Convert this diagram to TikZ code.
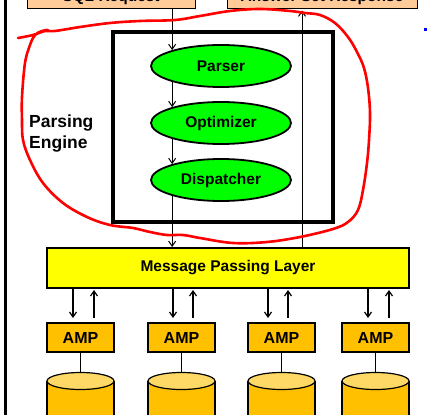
\documentclass[tikz,border=0pt]{standalone}
\usepackage{fontspec}
\setmainfont{Liberation Sans}
\usetikzlibrary{shapes.geometric,arrows.meta}

\definecolor{peach}{HTML}{FFCC99}
\definecolor{stagegreen}{HTML}{00FF00}
\definecolor{layeryellow}{HTML}{FFFF00}
\definecolor{ampgold}{HTML}{FFC000}
\definecolor{disktop}{HTML}{FFD966}

\begin{document}
\begin{tikzpicture}[x=1pt, y=-1pt, font=\bfseries\fontsize{15.5}{18}\selectfont,
    >={Straight Barb[length=5pt,width=7pt]},
    request/.style={draw, fill=peach, line width=1pt, anchor=base, text depth=0pt, inner ysep=7pt},
    stage/.style={ellipse, draw, fill=stagegreen, line width=1.8pt, minimum width=140pt, minimum height=42pt, inner sep=0pt},
    layer/.style={draw, fill=layeryellow, line width=2pt, minimum width=362pt, minimum height=40pt},
    amp/.style={draw, fill=ampgold, line width=2pt, minimum width=67pt, minimum height=29pt, inner sep=0pt}]
        \useasboundingbox (0,0) rectangle (427,414);

        \draw[line width=3pt] (5.5,-5) -- (5.5,420);
        \fill[blue] (424,28) rectangle (427,31);

        \node[request, minimum width=168pt] (sql) at (111,2) {SQL Request};
        \node[request, minimum width=190pt] (answer) at (322,2) {Answer Set Response};

        % parsing engine
        \node[draw, line width=4pt, minimum width=220pt, minimum height=190pt] (engine) at (223,127) {};
        \node[stage] (parser) at (221,66) {Parser};
        \node[stage] (optimizer) at (221,123) {Optimizer};
        \node[stage] (dispatcher) at (221,180) {Dispatcher};
        \node[align=left, anchor=west, inner sep=0pt, font=\bfseries\fontsize{17.5}{21}\selectfont]
            (engname) at (29,134) {Parsing\\Engine};

        \node[layer] (layer) at (228,268) {Message Passing Layer};

        \draw[->, line width=1pt] (sql.south -| parser.162) -- (parser.162);
        \draw[->, line width=1pt] (parser.198) -- (optimizer.162);
        \draw[->, line width=1pt] (optimizer.198) -- (dispatcher.162);
        \draw[->, line width=1pt] (dispatcher.198) -- (layer.north -| dispatcher.198);
        \coordinate (back) at (302,0);
        \draw[->, line width=1pt, shorten >=1pt] (layer.north -| back) -- (answer.south -| back);

        % AMPs and their disks
        \foreach \c/\d/\u [count=\i] in {80.5/73/94, 181.5/173/193, 281.5/268/288, 375.5/368/389} {
            \node[amp, font=\bfseries\fontsize{16}{18}\selectfont] (amp\i) at (\c,337.5) {AMP};
            \coordinate (dn\i) at (\d,0);
            \coordinate (up\i) at (\u,0);
            \coordinate (disk\i) at (\c,372.5);
            \draw[->, line width=1.2pt, shorten >=4pt] (layer.south -| dn\i) -- (amp\i.north -| dn\i);
            \draw[->, line width=1.2pt, shorten <=4pt, shorten >=1pt] (amp\i.north -| up\i) -- (layer.south -| up\i);

            \fill[ampgold] (\c-33.5,381) rectangle (\c+33.5,425);
            \draw[line width=1.2pt] (\c-33.5,381) -- (\c-33.5,425) (\c+33.5,381) -- (\c+33.5,425);
            \draw[line width=1.2pt, fill=disktop] (\c,381) ellipse (33.5 and 8.5);
            \draw[line width=1pt] (amp\i.south) -- (disk\i);
        }

        % hand drawn loop
        \draw[red, line width=2.6pt, line cap=round, line join=round] plot[smooth, tension=0.6] coordinates {
            (18,38) (33,35) (45,31) (55,31) (80,27) (110,23) (140,21) (175,20) (200,16) (230,11)
            (260,9) (290,11) (305,13) (320,15) (335,23) (348,37) (357,52) (364,68) (368,88)
            (370,113) (369,140) (367,163) (363,190) (358,210) (348,222) (333,229) (300,237)
            (267,242) (233,243) (200,238) (183,235) (167,235) (150,232) (133,228) (110,225)
            (87,217) (63,203) (43,183) (30,160) (23,140) (22,120) (22,97) (25,63) (30,45)
            (35,35) (42,31) (48,30)};
    \end{tikzpicture}
\end{document}
